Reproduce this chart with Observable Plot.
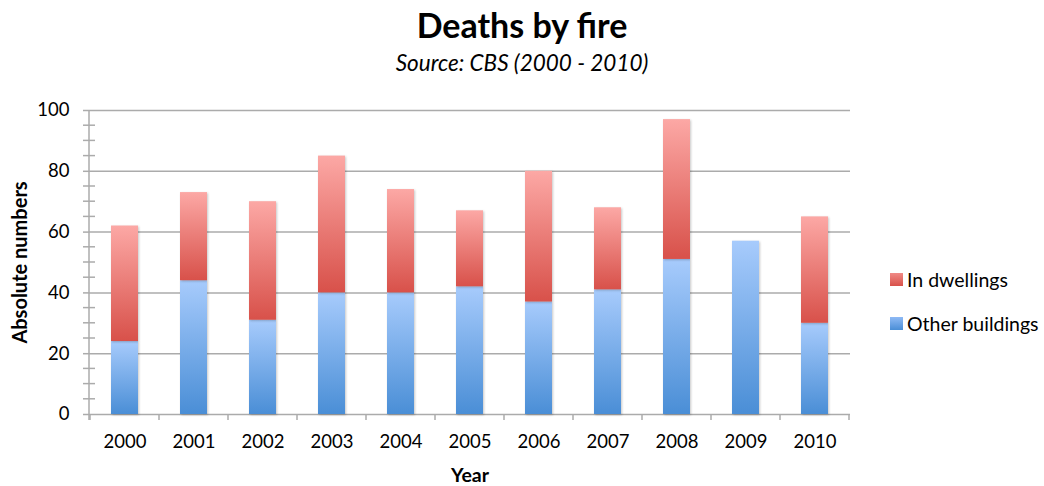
<!DOCTYPE html>
<html><head><meta charset="utf-8">
<script src="https://cdn.jsdelivr.net/npm/d3@7"></script>
<script src="https://cdn.jsdelivr.net/npm/@observablehq/plot@0.6"></script>
<style>
body{margin:0;background:#fff;font-family:Lato,"Open Sans",sans-serif;color:#000;}
#wrap{position:relative;width:1044px;height:486px;overflow:hidden;}
#title{position:absolute;left:0;width:1044px;top:5px;text-align:center;font-weight:700;font-size:34px;line-height:40px;}
#subtitle{position:absolute;left:0;width:1044px;top:49px;text-align:center;font-style:italic;font-size:22.5px;line-height:28px;}
#chart{position:absolute;left:0;top:90px;}
#legend{position:absolute;left:890px;top:268px;font-size:19.5px;}
.item{display:flex;align-items:center;height:22px;margin-bottom:22px;}
.sw{width:13px;height:13px;margin-right:4px;}
#chart svg g[aria-label="bar"] rect{filter:drop-shadow(1px 1px 1.2px rgba(0,0,0,0.22));}
</style></head>
<body>
<div id="wrap">
  <div id="title">Deaths by fire</div>
  <div id="subtitle">Source: CBS (2000 - 2010)</div>
  <div id="chart"></div>
  <div id="legend"></div>
</div>
<script>
const years = ["2000","2001","2002","2003","2004","2005","2006","2007","2008","2009","2010"];
const otherBuildings = [24,44,31,40,40,42,37,41,51,57,30];
const inDwellings = [38,29,39,45,34,25,43,27,46,0,35];
const seriesNames = ["Other buildings","In dwellings"];
const legendOrder = ["In dwellings","Other buildings"];
const yTicks = [0,20,40,60,80,100];
const yMinorTicks = [5,10,15,25,30,35,45,50,55,65,70,75,85,90,95];
const yLabel = "Absolute numbers";
const xLabel = "Year";

const rows = years.flatMap((yr, i) => [
  {year: yr, series: seriesNames[0], value: otherBuildings[i]},
  {year: yr, series: seriesNames[1], value: inDwellings[i]}
]);

const grid = "#ababab";

const defs = () => {
  const d = d3.create("svg:defs");
  const mk = (id, top, bottom) => {
    const g = d.append("linearGradient").attr("id", id).attr("x1",0).attr("y1",0).attr("x2",0).attr("y2",1);
    g.append("stop").attr("offset","0%").attr("stop-color", top);
    g.append("stop").attr("offset","100%").attr("stop-color", bottom);
  };
  mk("gradRed", "#fca8a5", "#d8514a");
  mk("gradBlue", "#a7cbfc", "#4a8ed6");
  return d.node();
};

const decorations = (index, scales, values, dim) => {
  const {x, y} = scales;
  const L = dim.marginLeft;
  const g = d3.create("svg:g").attr("stroke", grid).attr("stroke-width", 1.5).attr("fill","none");
  for (const v of yMinorTicks) {
    g.append("line").attr("x1", L - 6).attr("x2", L + 6).attr("y1", y(v)).attr("y2", y(v));
  }
  g.append("line").attr("x1", L).attr("x2", L).attr("y1", y(yTicks[yTicks.length-1])).attr("y2", y(0) + 6);
  const c0 = x(years[0]) + x.bandwidth() / 2;
  for (let i = 0; i <= years.length; i++) {
    const bx = c0 + (i - 0.5) * x.step();
    g.append("line").attr("x1", bx).attr("x2", bx).attr("y1", y(0)).attr("y2", y(0) + 6);
  }
  return g.node();
};

const chart = Plot.plot({
  width: 1044, height: 396,
  marginTop: 20, marginBottom: 72, marginLeft: 89, marginRight: 194,
  style: {fontFamily: "Lato, 'Open Sans', sans-serif", fontSize: "18.5px", color: "#000", background: "transparent"},
  x: {domain: years, paddingInner: 0.61, paddingOuter: 0.305, label: null},
  y: {domain: [0, 100], label: null},
  color: {domain: seriesNames, range: ["url(#gradBlue)", "url(#gradRed)"]},
  marks: [
    defs,
    Plot.gridY(yTicks, {stroke: grid, strokeOpacity: 1, strokeWidth: 1.5}),
    Plot.axisY(yTicks, {tickSize: 6, tickPadding: 14, stroke: grid, strokeWidth: 1.5, label: null}),
    decorations,
    Plot.barY(rows, {x: "year", y: "value", fill: "series", filter: d => d.value > 0}),
    Plot.axisX({tickSize: 0, tickPadding: 20, label: null}),
    Plot.text([yLabel], {frameAnchor: "left", dx: -69, rotate: -90, textAnchor: "middle", lineAnchor: "middle", fontWeight: "bold", fontSize: 20}),
    Plot.text([xLabel], {frameAnchor: "bottom", dy: 61, textAnchor: "middle", lineAnchor: "middle", fontWeight: "bold", fontSize: 19.5})
  ]
});
document.getElementById("chart").append(chart);

const swatch = {"In dwellings": "linear-gradient(#f08a86,#d8514a)", "Other buildings": "linear-gradient(#8fbaf5,#4a8ed6)"};
const leg = d3.select("#legend");
for (const s of legendOrder) {
  const it = leg.append("div").attr("class","item");
  it.append("div").attr("class","sw").style("background", swatch[s]);
  it.append("span").text(s);
}
</script>
</body></html>
